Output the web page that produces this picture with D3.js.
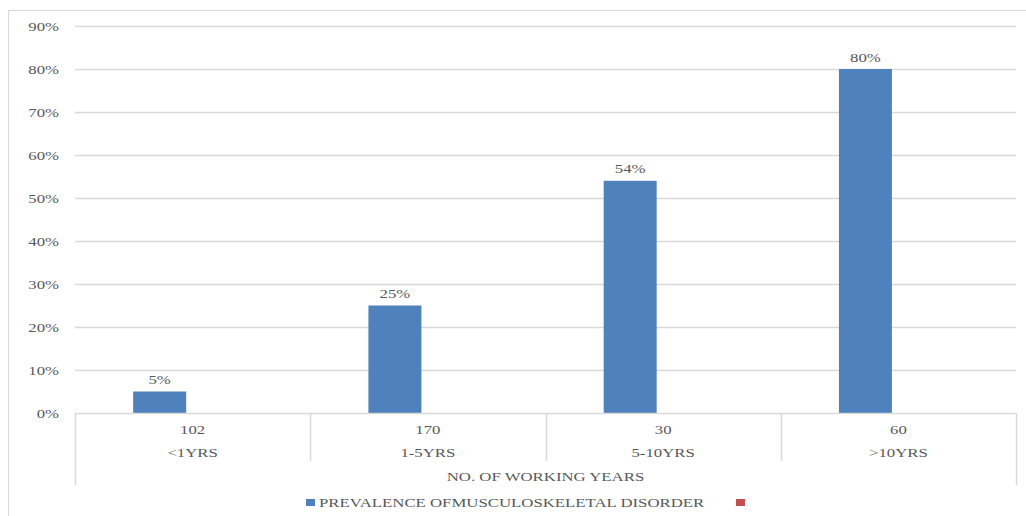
<!DOCTYPE html>
<html>
<head>
<meta charset="utf-8">
<script src="https://cdn.jsdelivr.net/npm/d3@7"></script>
<style>
  html, body { margin: 0; padding: 0; background: #fff; }
  svg { display: block; }
  text { font-family: "Liberation Serif", "DejaVu Serif", serif; fill: #595959; }
</style>
</head>
<body>
<svg id="chart" width="1026" height="516"></svg>
<script>
// Working-years groups and their counts
const categories = ["<1YRS", "1-5YRS", "5-10YRS", ">10YRS"];
const counts = ["102", "170", "30", "60"];
// Prevalence of musculoskeletal disorder (%)
const prevalence = [5, 25, 54, 80];
// Second legend series (no values drawn)
const secondSeries = [null, null, null, null];
const yTicks = [0, 10, 20, 30, 40, 50, 60, 70, 80, 90];
const seriesNames = ["PREVALENCE OFMUSCULOSKELETAL DISORDER", ""];
const axisTitle = "NO. OF WORKING YEARS";

const svg = d3.select("#chart");
const W = 1026, H = 516;
const plotLeft = 75, plotRight = 1016, plotTop = 26, plotBottom = 413;
const fs = 13;
const stretch = 1.29; // wide typeface look

// places a label at (x, y) with a horizontal stretch
function label(sel, xf, yf, anchor) {
  return sel.attr("transform", (d, i) => `translate(${xf(d, i)},${yf(d, i)}) scale(${stretch},1)`)
    .attr("text-anchor", anchor).attr("font-size", fs);
}

// outer chart frame
svg.append("rect").attr("x", 8.5).attr("y", 10.5)
  .attr("width", W + 20).attr("height", H + 20)
  .attr("fill", "none").attr("stroke", "#d9d9d9").attr("stroke-width", 1);

const y = d3.scaleLinear().domain([0, 90]).range([plotBottom, plotTop]);
const x = d3.scaleBand().domain(categories).range([plotLeft, plotRight]);
// two series per group; the second one is empty
const inner = d3.scaleBand().domain(["s1", "s2"]).range([0, x.bandwidth()])
  .paddingInner(0).paddingOuter(1.22).align(0.45);

// gridlines
svg.append("g").selectAll("line").data(yTicks.filter(d => d > 0)).join("line")
  .attr("x1", plotLeft).attr("x2", plotRight)
  .attr("y1", d => Math.round(y(d)) + 0.5).attr("y2", d => Math.round(y(d)) + 0.5)
  .attr("stroke", "#d9d9d9").attr("stroke-width", 1.5);

// y tick labels
label(svg.append("g").selectAll("text").data(yTicks).join("text").text(d => d + "%"),
  () => 59, d => y(d) + 4.5, "end");

// bars
svg.append("g").selectAll("rect").data(prevalence).join("rect")
  .attr("x", (d, i) => x(categories[i]) + inner("s1"))
  .attr("y", d => y(d))
  .attr("width", inner.bandwidth())
  .attr("height", d => plotBottom - y(d))
  .attr("fill", "#4F81BD");

// value labels
label(svg.append("g").selectAll("text").data(prevalence).join("text").text(d => d + "%"),
  (d, i) => x(categories[i]) + inner("s1") + inner.bandwidth() / 2, d => y(d) - 7.5, "middle");

// category axis: baseline and separators
const axisG = svg.append("g").attr("stroke", "#d9d9d9").attr("stroke-width", 1.5);
axisG.append("line").attr("x1", plotLeft).attr("x2", plotRight)
  .attr("y1", plotBottom + 0.5).attr("y2", plotBottom + 0.5);
const bounds = categories.map(c => x(c)).concat([plotRight]);
axisG.selectAll("line.sep").data(bounds).join("line").attr("class", "sep")
  .attr("x1", d => Math.round(d) + 0.5).attr("x2", d => Math.round(d) + 0.5)
  .attr("y1", plotBottom)
  .attr("y2", (d, i) => (i === 0 || i === bounds.length - 1) ? 485 : 461);

// count row and category row
label(svg.append("g").selectAll("text").data(counts).join("text").text(d => d),
  (d, i) => x(categories[i]) + x.bandwidth() / 2, () => 434, "middle");
label(svg.append("g").selectAll("text").data(categories).join("text").text(d => d),
  d => x(d) + x.bandwidth() / 2, () => 457, "middle");

// axis title
label(svg.append("text").datum(axisTitle).text(d => d),
  () => (plotLeft + plotRight) / 2, () => 481, "middle");

// legend
const legend = svg.append("g");
legend.append("rect").attr("x", 306).attr("y", 499).attr("width", 9).attr("height", 7).attr("fill", "#4F81BD");
label(legend.append("text").datum(seriesNames[0]).text(d => d), () => 319, () => 507, "start");
legend.append("rect").attr("x", 736).attr("y", 499).attr("width", 9).attr("height", 7).attr("fill", "#C0504D");
</script>
</body>
</html>
